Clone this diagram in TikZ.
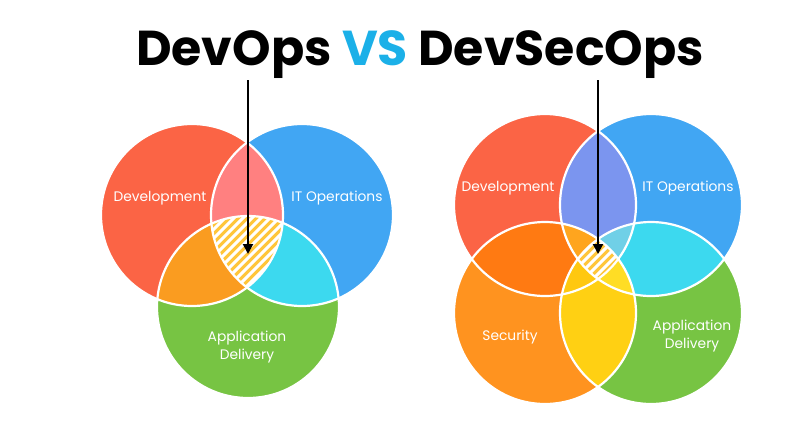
\documentclass[tikz,border=0pt]{standalone}
\usepackage{fontspec}
\setmainfont{Poppins}
\usetikzlibrary{arrows.meta}
\definecolor{dev}{HTML}{FB6445}
\definecolor{itops}{HTML}{41A6F3}
\definecolor{app}{HTML}{77C443}
\definecolor{sec}{HTML}{FF931F}
\definecolor{devit}{HTML}{FF8080}
\definecolor{devapp}{HTML}{FA9C20}
\definecolor{itapp}{HTML}{3CD9EF}
\definecolor{hatchc}{HTML}{FFC63A}
\definecolor{devitR}{HTML}{7B95EF}
\definecolor{devsec}{HTML}{FF7A12}
\definecolor{secapp}{HTML}{FFD013}
\definecolor{dis}{HTML}{FFA51E}
\definecolor{dia}{HTML}{70D0E7}
\definecolor{dsa}{HTML}{FFC810}
\definecolor{isa}{HTML}{FFDD25}
\definecolor{vs}{HTML}{1BB0E8}
\tikzset{
  lbl/.style={text=white, font=\fontsize{13.8}{18.5}\selectfont, align=center, inner sep=0pt},
  rim/.style={draw=white, line width=2.2pt},
  stripe/.style={white, line width=3pt},
  pointer/.style={black, line width=2pt, -{Triangle[width=10pt,length=10pt]}}
}
\begin{document}
\begin{tikzpicture}[x=1pt,y=-1pt]
\useasboundingbox (0,0) rectangle (800,424);
\fill[white] (0,0) rectangle (800,424);
\def\R{91}
% ---------- left Venn ----------
\coordinate (LD) at (192,215);
\coordinate (LI) at (302,215);
\coordinate (LA) at (248,307);
\fill[dev] (LD) circle (\R);
\fill[itops] (LI) circle (\R);
\fill[app] (LA) circle (\R);
\begin{scope}\clip (LD) circle (\R); \fill[devit] (LI) circle (\R);\end{scope}
\begin{scope}\clip (LD) circle (\R); \fill[devapp] (LA) circle (\R);\end{scope}
\begin{scope}\clip (LI) circle (\R); \fill[itapp] (LA) circle (\R);\end{scope}
\begin{scope}
  \clip (LD) circle (\R); \clip (LI) circle (\R); \clip (LA) circle (\R);
  \fill[hatchc] (LA) circle (\R);
  \foreach \a in {60,69,...,330} \draw[stripe] (\a,320) -- (\a+130,190);
\end{scope}
\draw[rim] (LD) circle (\R);
\draw[rim] (LI) circle (\R);
\draw[rim] (LA) circle (\R);
% ---------- right Venn ----------
\coordinate (RD) at (545,205);
\coordinate (RI) at (651,205);
\coordinate (RS) at (545,313);
\coordinate (RA) at (651,313);
\fill[dev] (RD) circle (\R);
\fill[itops] (RI) circle (\R);
\fill[sec] (RS) circle (\R);
\fill[app] (RA) circle (\R);
\begin{scope}\clip (RD) circle (\R); \fill[devitR] (RI) circle (\R);\end{scope}
\begin{scope}\clip (RD) circle (\R); \fill[devsec] (RS) circle (\R);\end{scope}
\begin{scope}\clip (RS) circle (\R); \fill[secapp] (RA) circle (\R);\end{scope}
\begin{scope}\clip (RI) circle (\R); \fill[itapp] (RA) circle (\R);\end{scope}
\begin{scope}\clip (RD) circle (\R); \clip (RI) circle (\R); \fill[dis] (RS) circle (\R);\end{scope}
\begin{scope}\clip (RD) circle (\R); \clip (RI) circle (\R); \fill[dia] (RA) circle (\R);\end{scope}
\begin{scope}\clip (RD) circle (\R); \clip (RS) circle (\R); \fill[dsa] (RA) circle (\R);\end{scope}
\begin{scope}\clip (RI) circle (\R); \clip (RS) circle (\R); \fill[isa] (RA) circle (\R);\end{scope}
\begin{scope}
  \clip (RD) circle (\R); \clip (RI) circle (\R); \clip (RS) circle (\R); \clip (RA) circle (\R);
  \fill[hatchc] (RA) circle (\R);
  \foreach \a in {480,489,...,660} \draw[stripe] (\a,320) -- (\a+100,220);
\end{scope}
\draw[rim] (RD) circle (\R);
\draw[rim] (RI) circle (\R);
\draw[rim] (RS) circle (\R);
\draw[rim] (RA) circle (\R);
% ---------- labels ----------
\node[lbl] (l1) at (160,198) {Development};
\node[lbl] (l2) at (337,198) {IT Operations};
\node[lbl] (l3) at (247,347) {Application\\Delivery};
\node[lbl] (r1) at (508,188) {Development};
\node[lbl] (r2) at (688,188) {IT Operations};
\node[lbl] (r3) at (510,337) {Security};
\node[lbl] (r4) at (692,336) {Application\\Delivery};
% ---------- title ----------
\node[anchor=base, inner sep=0pt, font=\fontsize{49}{58}\selectfont\bfseries] (title) at (420,65)
  {DevOps \textcolor{vs}{VS} DevSecOps};
% ---------- arrows ----------
\coordinate (la0) at (248,80);
\coordinate (la1) at (248,254);
\coordinate (ra0) at (598,80);
\coordinate (ra1) at (598,254);
\draw[pointer] (la0) -- (la1);
\draw[pointer] (ra0) -- (ra1);
\end{tikzpicture}
\end{document}
